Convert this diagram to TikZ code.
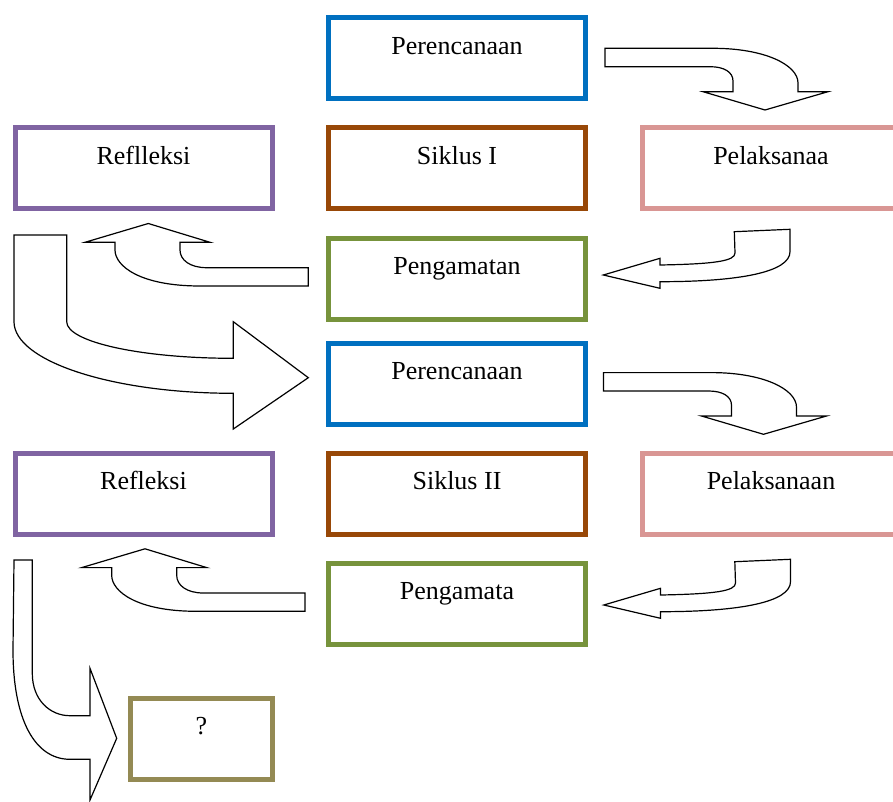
\documentclass[tikz,border=0pt]{standalone}
\usepackage{fontspec}
\setmainfont{Liberation Serif}
\definecolor{cblue}{HTML}{0070C0}
\definecolor{cpurple}{HTML}{8064A2}
\definecolor{cbrown}{HTML}{984807}
\definecolor{cpink}{HTML}{D99694}
\definecolor{cgreen}{HTML}{77933C}
\definecolor{colive}{HTML}{948A54}
\begin{document}
\begin{tikzpicture}[x=1pt,y=-1pt,
  box/.style={draw=#1, line width=5pt, rectangle, inner sep=0pt, anchor=north,
    minimum width=257pt, text height=36.5pt, text depth=44.5pt,
    font=\fontsize{26}{30}\selectfont},
  blockarrow/.style={draw=black, fill=white, line width=1.2pt, line join=miter}]
\useasboundingbox (0,0) rectangle (893,802);
\begin{scope}
\clip (0,0) rectangle (893,802);
% boxes
\node[box=cblue]   (per1) at (457,15.5)  {Perencanaan};
\node[box=cpurple] (ref1) at (143.5,125.5) {Reflleksi};
\node[box=cbrown]  (sik1) at (457,125.5) {Siklus I};
\node[box=cpink]   (pel1) at (771,125.5) {Pelaksanaa};
\node[box=cgreen]  (pen1) at (457,235.5) {Pengamatan};
\node[box=cblue]   (per2) at (457,340.5) {Perencanaan};
\node[box=cpurple] (ref2) at (143.5,450.5) {Refleksi};
\node[box=cbrown]  (sik2) at (457,450.5) {Siklus II};
\node[box=cpink]   (pel2) at (771,450.5) {Pelaksanaan};
\node[box=cgreen]  (pen2) at (457,560.5) {Pengamata};
\node[box=colive, minimum width=142.3pt] (hasil) at (201.3,695.8) {?};
\end{scope}
% arrow: Perencanaan -> Pelaksanaa (top right)
\foreach \sx/\sy in {0/0, -1.5/324.3}{
\begin{scope}[shift={(\sx,\sy)}]
\draw[blockarrow] (605,48.3) -- (713,48.3) .. controls (765,48.3) and (798,65) .. (798,83)
  -- (798,91.7) -- (828,91.7) -- (765,110) -- (703,91.7) -- (733,91.7) -- (733,81)
  .. controls (733,72) and (724,66.7) .. (710,66.7) -- (605,66.7) -- cycle;
\end{scope}}
% arrow: Pelaksanaa -> Pengamatan (right, pointing left)
\foreach \sx/\sy in {0/0, 0.5/330}{
\begin{scope}[shift={(\sx,\sy)}]
\draw[blockarrow] (734.3,231.7) -- (790,229.3) -- (790,251.7)
  .. controls (790,272) and (740,281.7) .. (660,281.7) -- (660,288.3) -- (603.3,275)
  -- (660,258.3) -- (660,265) .. controls (715,264) and (735,261) .. (735,253) -- cycle;
\end{scope}}
% arrow: Pengamatan -> Refleksi (left, pointing up)
\foreach \sx/\sy in {0/0, -3.3/325.3}{
\begin{scope}[shift={(\sx,\sy)}]
\draw[blockarrow] (308.3,267.7) -- (206.7,267.7) .. controls (190,267.7) and (180,260) .. (180,250)
  -- (180,242.3) -- (210,242.3) -- (148.3,223.5) -- (85,242.3) -- (115,242.3) -- (115,250)
  .. controls (115,266) and (140,286) .. (200,286) -- (308.3,286) -- cycle;
\end{scope}}
% arrow: Reflleksi -> Perencanaan (big)
\draw[blockarrow] (14,235) -- (66.7,235) -- (66.7,321.7)
  .. controls (66.7,342) and (141,358.3) .. (233.3,358.3) -- (233.3,321.7) -- (308.3,377.7)
  -- (233.3,429) -- (233.3,393.3) .. controls (112.4,393.3) and (14,361.2) .. (14,321.7) -- cycle;
% arrow: Refleksi -> ?
\draw[blockarrow] (14,560) -- (32.3,560) -- (32.3,673.3)
  .. controls (32.3,700) and (50,715.7) .. (70,715.7) -- (90,715.7) -- (90,668.3)
  -- (116.7,738.3) -- (90,800) -- (90,759.3) -- (70,759.3)
  .. controls (35,759.3) and (13,720) .. (13,650) -- cycle;
\end{tikzpicture}
\end{document}
